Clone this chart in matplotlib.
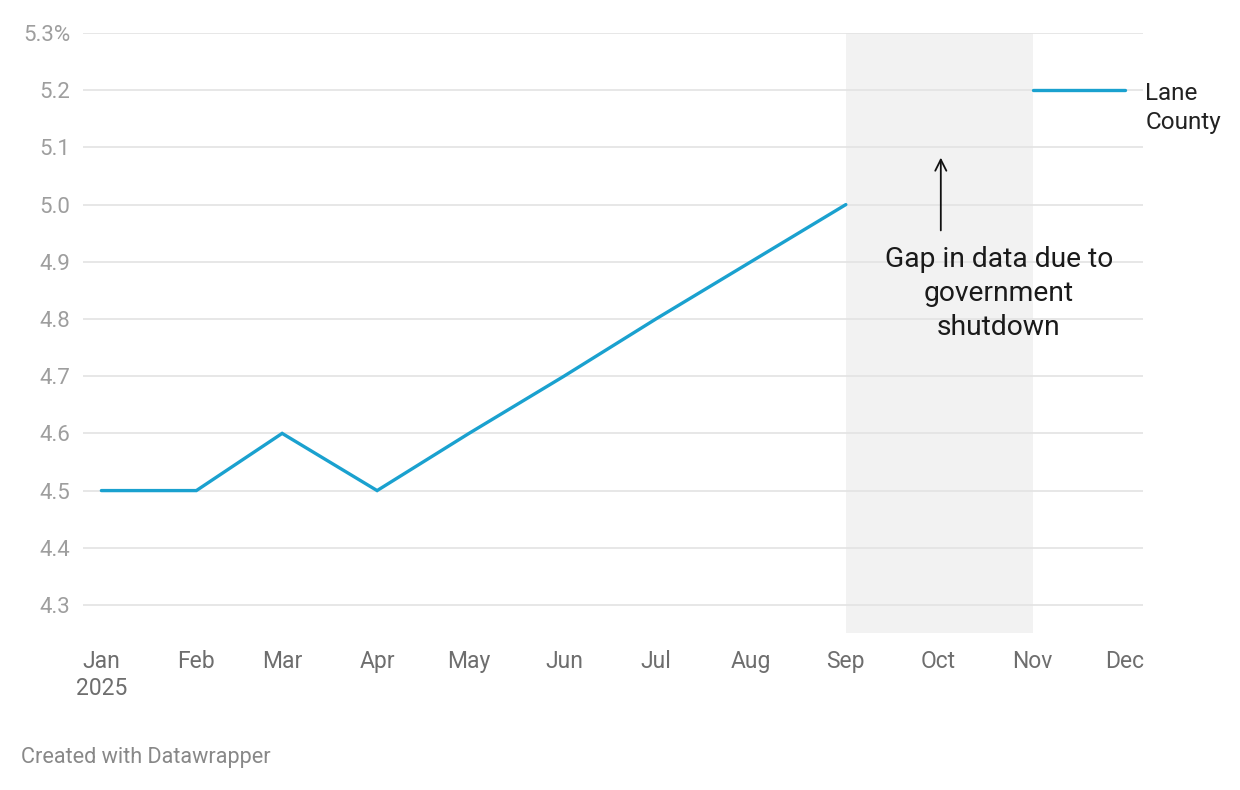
import datetime as dt
import matplotlib
matplotlib.use("Agg")
import matplotlib.pyplot as plt
import matplotlib.dates as mdates

plt.rcParams['font.family'] = ['Roboto', 'DejaVu Sans']

# monthly unemployment rate, Lane County 2025 (Oct missing, shutdown)
months = ["Jan", "Feb", "Mar", "Apr", "May", "Jun", "Jul", "Aug", "Sep", "Oct", "Nov", "Dec"]
rate_part1 = [4.5, 4.5, 4.6, 4.5, 4.6, 4.7, 4.8, 4.9, 5.0]
rate_part2 = [5.2, 5.2]   # Nov, Dec
y_ticks = [4.3, 4.4, 4.5, 4.6, 4.7, 4.8, 4.9, 5.0, 5.1, 5.2, 5.3]

dates = [dt.date(2025, m, 1) for m in range(1, 13)]
d1 = dates[:9]
d2 = dates[10:12]

blue = "#1aa1cf"

fig = plt.figure(figsize=(12.4, 7.9), dpi=100)
ax = fig.add_axes([83 / 1240, 1 - 633 / 790, 1060 / 1240, 600 / 790])

# shaded gap Sep -> Nov
ax.axvspan(dates[8], dates[10], color="#f2f2f2", zorder=0, lw=0)

for y in y_ticks:
    ax.axhline(y, color="#e3e3e3", lw=1.2, zorder=1)

ax.plot(d1, rate_part1, color=blue, lw=2.4, zorder=3, solid_capstyle="round", solid_joinstyle="miter")
ax.plot(d2, rate_part2, color=blue, lw=2.4, zorder=3, solid_capstyle="round")

ax.set_xlim(dates[0] - dt.timedelta(days=6.5), dates[11] + dt.timedelta(days=6.2))
ax.set_ylim(4.251, 5.3)

ax.set_xticks(dates)
xlabels = list(months)
xlabels[0] = "Jan\n2025"
ax.set_xticklabels(xlabels, fontsize=16.5, color="#6e6e6e", linespacing=1.25)
ax.set_yticks(y_ticks)
ylabels = ["%.1f" % v for v in y_ticks]
ylabels[-1] = ylabels[-1] + "%"
ax.set_yticklabels(ylabels, fontsize=16, color="#9e9e9e")
ax.tick_params(axis="x", length=0, pad=12)
ax.tick_params(axis="y", length=0, pad=9)
for s in ax.spines.values():
    s.set_visible(False)

# line label
ax.annotate("Lane\nCounty", xy=(dates[11], 5.2), xytext=(15, 6), textcoords="offset points",
            fontsize=17.5, color="#222222", ha="left", va="top", linespacing=1.32)

# annotation
ax.annotate("", xy=(dt.date(2025, 10, 2), 5.087), xytext=(dt.date(2025, 10, 2), 4.95),
            arrowprops=dict(arrowstyle="->", color="#111111", lw=1.3, mutation_scale=20))
ax.text(dt.date(2025, 10, 21), 4.845, "Gap in data due to\ngovernment\nshutdown",
        fontsize=20.3, color="#1a1a1a", ha="center", va="center", linespacing=1.34)

fig.text(21 / 1240, 1 - 757 / 790, "Created with Datawrapper", fontsize=15.6, color="#888888",
         ha="left", va="center")

fig.savefig("out.png", dpi=100)
